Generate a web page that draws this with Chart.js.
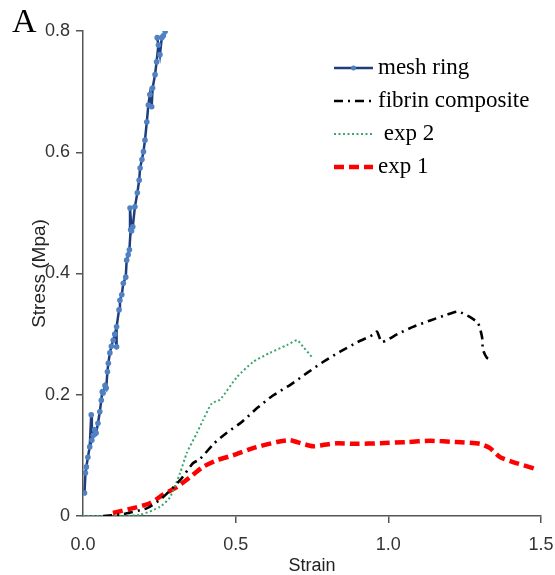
<!DOCTYPE html>
<html>
<head>
<meta charset="utf-8">
<script src="https://cdn.jsdelivr.net/npm/chart.js@4.4.1/dist/chart.umd.min.js"></script>
<style>
  html, body { margin: 0; padding: 0; background: #fff; }
  #wrap { position: relative; width: 555px; height: 575px; }
  #panel { position: absolute; left: 12px; top: 2px; font: 34px "Liberation Serif", "Times New Roman", serif; color: #000; }
</style>
</head>
<body>
<div id="wrap">
  <canvas id="stress-chart" width="555" height="575"></canvas>
  <div id="panel">A</div>
</div>
<script>
// Series data
const meshStrain = [0.005, 0.008, 0.011, 0.016, 0.022, 0.027, 0.029, 0.034, 0.038, 0.043, 0.049, 0.055, 0.060, 0.063, 0.066, 0.072, 0.076, 0.080, 0.083, 0.088, 0.093, 0.099, 0.104, 0.110, 0.110, 0.118, 0.121, 0.127, 0.132, 0.140, 0.143, 0.148, 0.152, 0.156, 0.154, 0.159, 0.163, 0.170, 0.178, 0.184, 0.187, 0.193, 0.198, 0.203, 0.209, 0.214, 0.219, 0.225, 0.228, 0.236, 0.241, 0.247, 0.243, 0.252, 0.258, 0.263, 0.269];
const meshStress = [0.038, 0.071, 0.081, 0.097, 0.114, 0.167, 0.125, 0.133, 0.142, 0.137, 0.153, 0.172, 0.191, 0.205, 0.203, 0.215, 0.211, 0.238, 0.252, 0.269, 0.280, 0.290, 0.300, 0.279, 0.312, 0.340, 0.356, 0.365, 0.384, 0.394, 0.422, 0.431, 0.439, 0.472, 0.508, 0.470, 0.477, 0.510, 0.533, 0.554, 0.574, 0.588, 0.601, 0.620, 0.650, 0.678, 0.695, 0.675, 0.706, 0.728, 0.749, 0.777, 0.789, 0.761, 0.789, 0.792, 0.799];

const fibrinStrain = [0.066, 0.13, 0.21, 0.26, 0.318, 0.36, 0.383, 0.43, 0.47, 0.52, 0.57, 0.62, 0.678, 0.734, 0.786, 0.842, 0.90, 0.95, 0.963, 0.979, 1.03, 1.081, 1.14, 1.192, 1.228, 1.268, 1.294, 1.307, 1.31, 1.323, 1.34];
const fibrinStress = [0, 0.003, 0.013, 0.03, 0.059, 0.087, 0.094, 0.12, 0.137, 0.155, 0.178, 0.198, 0.216, 0.236, 0.254, 0.271, 0.287, 0.299, 0.304, 0.287, 0.300, 0.312, 0.323, 0.332, 0.337, 0.328, 0.318, 0.295, 0.274, 0.261, 0.257];

const exp2Strain = [0, 0.088, 0.187, 0.252, 0.285, 0.318, 0.34, 0.373, 0.393, 0.422, 0.449, 0.504, 0.557, 0.612, 0.668, 0.701, 0.721, 0.75];
const exp2Stress = [0, 0, 0.002, 0.015, 0.031, 0.071, 0.104, 0.137, 0.158, 0.186, 0.192, 0.229, 0.254, 0.269, 0.282, 0.29, 0.279, 0.262];

const exp1Strain = [0.098, 0.164, 0.219, 0.262, 0.308, 0.35, 0.393, 0.439, 0.491, 0.557, 0.635, 0.678, 0.70, 0.753, 0.786, 0.832, 0.897, 0.973, 1.061, 1.137, 1.225, 1.30, 1.333, 1.366, 1.408, 1.48];
const exp1Stress = [0.005, 0.013, 0.021, 0.035, 0.048, 0.064, 0.081, 0.092, 0.10, 0.112, 0.122, 0.125, 0.122, 0.115, 0.117, 0.120, 0.119, 0.120, 0.122, 0.124, 0.122, 0.119, 0.112, 0.097, 0.089, 0.078];

const seriesNames = ['mesh ring', 'fibrin composite', 'exp 2', 'exp 1'];
const xTicks = [0, 0.5, 1.0, 1.5];
const yTicks = [0, 0.2, 0.4, 0.6, 0.8];

const axisColor = '#555';
const tickFont = { family: 'Liberation Sans, Arial, sans-serif', size: 18 };

function toPoints(xs, ys) {
    return xs.map((x, i) => ({ x: x, y: ys[i] }));
}

// Legend drawn inside the plot, top right
const insideLegend = {
    id: 'insideLegend',
    afterDraw(chart) {
        const ctx = chart.ctx;
        const rows = [68, 101, 134, 167];
        const x0 = 334, x1 = 373;
        ctx.save();
        ctx.font = '23px "Liberation Serif", "Times New Roman", serif';
        ctx.fillStyle = '#000';
        ctx.textBaseline = 'middle';
        chart.data.datasets.forEach((ds, i) => {
            const y = rows[i];
            ctx.beginPath();
            ctx.setLineDash(ds.borderDash || []);
            ctx.strokeStyle = ds.borderColor;
            ctx.lineWidth = ds.borderWidth;
            ctx.moveTo(x0, y);
            ctx.lineTo(x1, y);
            ctx.stroke();
            ctx.setLineDash([]);
            if (ds.pointRadius > 0) {
                ctx.beginPath();
                ctx.fillStyle = ds.pointBackgroundColor;
                ctx.arc((x0 + x1) / 2, y, 2.5, 0, Math.PI * 2);
                ctx.fill();
            }
            ctx.fillStyle = '#000';
            const label = ds.label === 'exp 2' ? ' ' + ds.label : ds.label;
            ctx.fillText(label, 378, y);
        });
        ctx.restore();
    }
};

const ctx = document.getElementById('stress-chart').getContext('2d');
new Chart(ctx, {
    type: 'line',
    data: {
        datasets: [
            {
                label: seriesNames[0],
                data: toPoints(meshStrain, meshStress),
                borderColor: '#1f3d7a',
                borderWidth: 2.5,
                pointRadius: 2.8,
                pointBackgroundColor: '#4f81c4',
                pointBorderColor: '#4f81c4',
                pointBorderWidth: 0,
                tension: 0
            },
            {
                label: seriesNames[1],
                data: toPoints(fibrinStrain, fibrinStress),
                borderColor: '#000',
                borderWidth: 2.6,
                borderDash: [9, 5, 2, 5],
                pointRadius: 0,
                tension: 0.2
            },
            {
                label: seriesNames[2],
                data: toPoints(exp2Strain, exp2Stress),
                borderColor: '#3aa66a',
                borderWidth: 2,
                borderDash: [2, 2.5],
                pointRadius: 0,
                tension: 0.2
            },
            {
                label: seriesNames[3],
                data: toPoints(exp1Strain, exp1Stress),
                borderColor: '#ff0000',
                borderWidth: 4.5,
                borderDash: [10, 5],
                pointRadius: 0,
                tension: 0.2
            }
        ]
    },
    options: {
        responsive: false,
        animation: false,
        layout: { padding: { top: 31, right: 14, left: 0, bottom: 0 } },
        plugins: {
            legend: { display: false },
            tooltip: { enabled: false }
        },
        scales: {
            x: {
                type: 'linear',
                min: 0,
                max: 1.5,
                afterFit: (scale) => {
                    scale.height = 59;
                    scale.paddingLeft = 0;
                    scale.paddingRight = 0;
                },
                afterBuildTicks: (scale) => { scale.ticks = xTicks.map(v => ({ value: v })); },
                ticks: {
                    color: '#333',
                    font: tickFont,
                    padding: 11,
                    maxRotation: 0,
                    callback: (v) => Number(v).toFixed(1)
                },
                grid: {
                    drawOnChartArea: false,
                    tickLength: 7,
                    lineWidth: 1.5,
                    color: (c) => c.index === 0 ? 'rgba(0,0,0,0)' : axisColor
                },
                border: { display: true, color: axisColor, width: 1.5 },
                title: {
                    display: true,
                    text: 'Strain',
                    color: '#222',
                    font: { family: 'Liberation Sans, Arial, sans-serif', size: 18, lineHeight: 1 },
                    padding: 0
                }
            },
            y: {
                min: 0,
                max: 0.8,
                afterFit: (scale) => {
                    scale.width = 83;
                    scale.paddingTop = 0;
                    scale.paddingBottom = 0;
                },
                afterBuildTicks: (scale) => { scale.ticks = yTicks.map(v => ({ value: v })); },
                ticks: {
                    color: '#333',
                    font: tickFont,
                    padding: 6,
                    callback: (v) => v === 0 ? '0' : Number(v).toFixed(1)
                },
                grid: {
                    drawOnChartArea: false,
                    tickLength: 7,
                    lineWidth: 1.5,
                    color: axisColor
                },
                border: { display: true, color: axisColor, width: 1.5 },
                title: {
                    display: true,
                    text: 'Stress (Mpa)',
                    color: '#222',
                    font: { family: 'Liberation Sans, Arial, sans-serif', size: 19, lineHeight: 1 },
                    padding: { top: 30, bottom: 0 }
                }
            }
        }
    },
    plugins: [insideLegend]
});
</script>
</body>
</html>
